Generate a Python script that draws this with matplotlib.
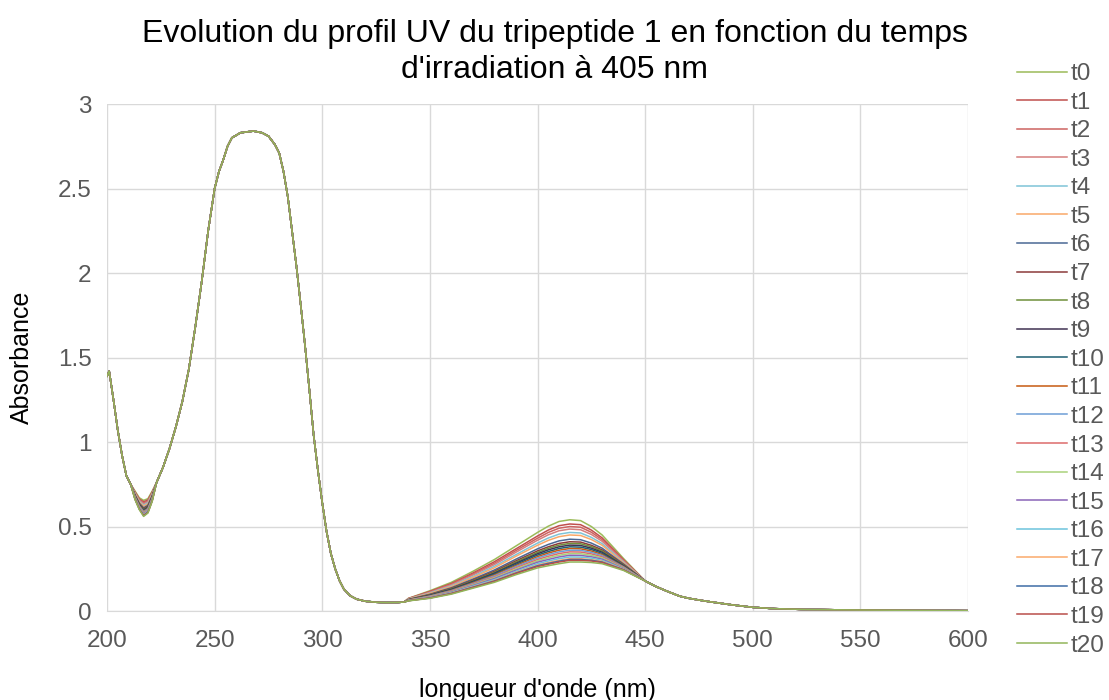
import matplotlib
matplotlib.use('Agg')
import matplotlib.pyplot as plt

plt.rcParams['font.family'] = ['Liberation Sans', 'DejaVu Sans']

# Spectres UV-visible du tripeptide 1 (t0 -> t20)
labels = ['t%d' % i for i in range(21)]
colors = ['#9BBB59', '#C0504D', '#CD6360', '#D67F7D', '#7FC3D7', '#F9A868',
          '#4A6894', '#8B3A3A', '#6F8F3A', '#403152', '#1D5F73', '#C65A11',
          '#6E9ED6', '#DC6B6B', '#A9D27A', '#8A64B8', '#6CC3DD', '#FBA96B',
          '#3F6CA6', '#B94E4A', '#92B55A']

# partie commune 200-211 nm
wl_start = [200, 201, 203, 205, 207, 209, 211]
abs_start = [1.39, 1.42, 1.25, 1.07, 0.92, 0.80, 0.75]

# creux vers 217 nm (une valeur par spectre)
wl_dip = [213, 215, 217, 219, 221]
dip_213 = [.710, .705, .702, .699, .695, .692, .687, .684, .682, .680, .678,
           .676, .674, .672, .670, .668, .666, .664, .663, .662, .660]
dip_215 = [.670, .663, .659, .655, .649, .645, .638, .634, .631, .628, .625,
           .622, .620, .617, .614, .611, .608, .606, .604, .603, .600]
dip_217 = [.655, .646, .640, .634, .627, .621, .611, .606, .602, .598, .594,
           .590, .587, .583, .579, .575, .571, .568, .566, .564, .560]
dip_219 = [.665, .657, .651, .646, .640, .634, .626, .621, .617, .614, .611,
           .607, .604, .600, .597, .594, .590, .587, .585, .583, .580]
dip_221 = [.710, .704, .700, .697, .692, .688, .682, .679, .676, .674, .672,
           .669, .667, .664, .662, .660, .657, .655, .654, .652, .650]

# bande a 270 nm, commune a tous les spectres
wl_uv = [223, 226, 229, 232, 235, 238, 241, 244, 247, 250, 252, 254, 256, 258,
         262, 268, 272, 275, 278, 280, 282, 284, 286, 288, 290, 292, 294, 296,
         298, 300, 302, 304, 306, 308, 310, 313, 316, 320, 325, 330, 335, 338]
abs_uv = [0.76, 0.85, 0.96, 1.09, 1.24, 1.43, 1.68, 1.95, 2.25, 2.50, 2.60,
          2.67, 2.75, 2.80, 2.83, 2.84, 2.83, 2.81, 2.76, 2.71, 2.60, 2.45,
          2.245, 2.04, 1.81, 1.57, 1.31, 1.04, 0.83, 0.64, 0.47, 0.34, 0.25,
          0.18, 0.13, 0.09, 0.07, 0.058, 0.052, 0.050, 0.051, 0.053]

# bande visible vers 415 nm, une ligne par spectre
wl_band = [340, 350, 360, 370, 380, 390, 400, 405, 410, 415, 420, 425, 430, 440]
band_abs = [
    [.075, .120, .170, .235, .305, .385, .465, .502, .530, .540, .535, .500, .450, .310],
    [.074, .116, .163, .225, .292, .368, .444, .479, .505, .515, .511, .479, .433, .303],
    [.073, .113, .159, .219, .283, .358, .431, .465, .490, .500, .496, .466, .423, .299],
    [.072, .110, .155, .213, .275, .348, .419, .451, .475, .485, .481, .453, .413, .295],
    [.071, .107, .149, .205, .265, .334, .402, .432, .455, .465, .462, .436, .399, .289],
    [.070, .104, .145, .199, .256, .324, .389, .418, .440, .450, .447, .423, .389, .285],
    [.068, .099, .138, .189, .243, .307, .368, .394, .415, .425, .422, .402, .372, .278],
    [.067, .097, .134, .183, .235, .297, .356, .380, .400, .410, .408, .389, .362, .274],
    [.067, .095, .131, .179, .229, .290, .347, .371, .390, .400, .398, .381, .355, .271],
    [.066, .093, .128, .175, .224, .283, .339, .362, .380, .390, .388, .372, .348, .268],
    [.065, .091, .125, .171, .219, .276, .331, .352, .370, .380, .378, .364, .341, .265],
    [.065, .089, .122, .167, .213, .269, .322, .343, .360, .370, .368, .355, .334, .262],
    [.064, .088, .120, .163, .208, .263, .314, .334, .350, .360, .359, .347, .328, .260],
    [.064, .086, .117, .159, .202, .256, .305, .324, .340, .350, .349, .338, .321, .257],
    [.063, .084, .114, .155, .197, .249, .297, .315, .330, .340, .339, .330, .314, .254],
    [.062, .082, .111, .151, .192, .242, .289, .305, .320, .330, .329, .321, .307, .251],
    [.062, .080, .108, .147, .186, .235, .280, .296, .310, .320, .319, .313, .300, .248],
    [.061, .079, .106, .143, .181, .229, .272, .287, .300, .310, .310, .304, .294, .246],
    [.061, .078, .104, .141, .178, .225, .268, .282, .295, .305, .305, .300, .290, .244],
    [.061, .077, .103, .139, .175, .222, .263, .277, .290, .300, .300, .296, .287, .243],
    [.060, .075, .100, .135, .170, .215, .255, .268, .280, .290, .290, .287, .280, .240],
]

# fin de spectre commune 450-600 nm
wl_tail = [450, 455, 460, 466, 470, 475, 480, 490, 500, 510, 525, 550, 575, 600]
abs_tail = [.178, .145, .118, .088, .076, .065, .055, .037, .022, .014, .009,
            .006, .004, .002]

fig = plt.figure(figsize=(11.09, 7.0), dpi=100)
ax = fig.add_axes([0.0965, 0.1271, 0.7764, 0.7243])

for i in range(21):
    wl = wl_start + wl_dip + wl_uv + wl_band + wl_tail
    a = (abs_start
         + [dip_213[i], dip_215[i], dip_217[i], dip_219[i], dip_221[i]]
         + abs_uv + band_abs[i] + abs_tail)
    ax.plot(wl, a, color=colors[i], lw=1.1, label=labels[i])

ax.set_xlim(200, 600)
ax.set_ylim(0, 3)
ax.set_xticks(range(200, 601, 50))
ax.set_yticks([0, 0.5, 1, 1.5, 2, 2.5, 3])
ax.set_yticklabels(['0', '0.5', '1', '1.5', '2', '2.5', '3'])
ax.grid(True, color='#D9D9D9', lw=1.0)
ax.set_axisbelow(True)
for s in ax.spines.values():
    s.set_visible(False)
ax.spines['bottom'].set_visible(True)
ax.spines['bottom'].set_color('#D9D9D9')
ax.tick_params(length=0, labelsize=17.5, labelcolor='#595959')
ax.tick_params(axis='x', pad=14)
ax.tick_params(axis='y', pad=11)

fig.text(537 / 1109, 1 - 690 / 700, "longueur d'onde (nm)", fontsize=18,
         ha='center', va='center', color='#000000')
fig.text(22 / 1109, 1 - 357 / 700, 'Absorbance', fontsize=18, rotation=90,
         ha='center', va='center', color='#000000')

fig.text(0.5, 1 - 52 / 700, 'Evolution du profil UV du tripeptide 1 en fonction du temps\n'
         "d'irradiation à 405 nm", ha='center', va='center', fontsize=23,
         linespacing=1.24, color='#000000')

leg = ax.legend(loc='upper left', bbox_to_anchor=(1017 / 1109, 1 - 63 / 700),
                bbox_transform=fig.transFigure, frameon=False, fontsize=17.5,
                handlelength=2.05, handletextpad=0.16, labelspacing=0.27,
                borderaxespad=0, borderpad=0)
for t in leg.get_texts():
    t.set_color('#595959')

plt.savefig('out.png', dpi=100)
plt.close()
